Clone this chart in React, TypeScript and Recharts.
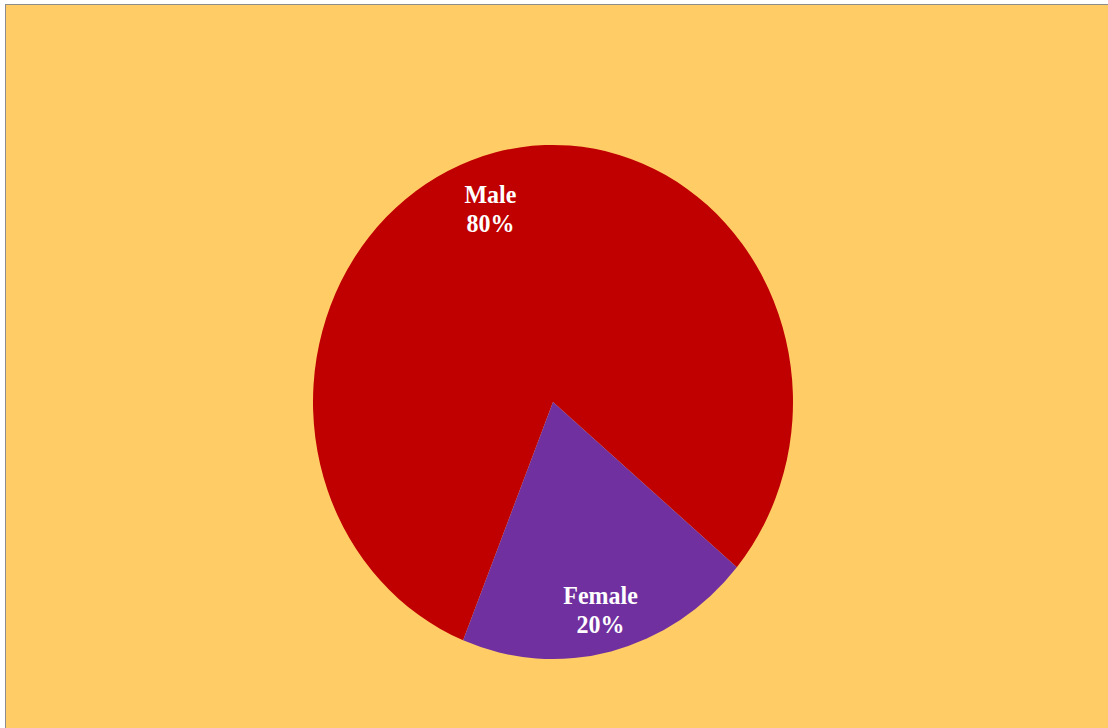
import React from "react";
import { PieChart, Pie, Cell } from "recharts";

const genders = ["Male", "Female"];
const shares = [80, 20];
const sliceColors = ["#C00000", "#7030A0"];

const data = genders.map((name, i) => ({ name, value: shares[i] }));

const CHART_W = 1102;
const CHART_H = 723;
const CX = 547;
const CY = 397;
const RADIUS = 240;
// the original picture is stretched a little in height
const STRETCH_Y = 1.071;
const RAD = Math.PI / 180;

// small hand nudges, like Excel's best-fit label placement
const labelNudge: Record<string, { dx: number; dy: number }> = {
  Male: { dx: -15, dy: 8 },
  Female: { dx: 0, dy: 0 },
};

const renderLabel = (props: any) => {
  const { cx, cy, midAngle, outerRadius, name, percent } = props;
  const r = outerRadius * 0.82;
  const nudge = labelNudge[name] || { dx: 0, dy: 0 };
  const x = cx + r * Math.cos(-midAngle * RAD) + nudge.dx;
  const y = cy + r * Math.sin(-midAngle * RAD) + nudge.dy;
  return (
    <text
      x={x}
      y={y - 2.5}
      fill="#FFFFFF"
      textAnchor="middle"
      fontFamily='"Liberation Serif", "Times New Roman", serif'
      fontWeight="bold"
      fontSize={24}
    >
      <tspan x={x} dy={0}>
        {name}
      </tspan>
      <tspan x={x} dy={27}>
        {`${Math.round(percent * 100)}%`}
      </tspan>
    </text>
  );
};

const App: React.FC = () => {
  return (
    <div
      style={{
        position: "fixed",
        left: 0,
        top: 0,
        width: 1108,
        height: 728,
        overflow: "hidden",
        background: "#FFFFFF",
      }}
    >
      <div
        style={{
          position: "absolute",
          left: 5,
          top: 4,
          width: CHART_W + 10,
          height: CHART_H + 10,
          border: "1px solid #8C8C8C",
          background: "#FFCC66",
        }}
      >
        <div
          style={{
            width: CHART_W,
            height: CHART_H,
            transform: `scaleY(${STRETCH_Y})`,
            transformOrigin: `${CX}px ${CY}px`,
          }}
        >
          <PieChart
            width={CHART_W}
            height={CHART_H}
            margin={{ top: 0, right: 0, bottom: 0, left: 0 }}
          >
            <Pie
              data={data}
              dataKey="value"
              nameKey="name"
              cx={CX}
              cy={CY}
              outerRadius={RADIUS}
              startAngle={-112}
              endAngle={-472}
              stroke="none"
              label={renderLabel}
              labelLine={false}
              isAnimationActive={false}
            >
              {data.map((d, i) => (
                <Cell key={d.name} fill={sliceColors[i]} />
              ))}
            </Pie>
          </PieChart>
        </div>
      </div>
    </div>
  );
};

export default App;
